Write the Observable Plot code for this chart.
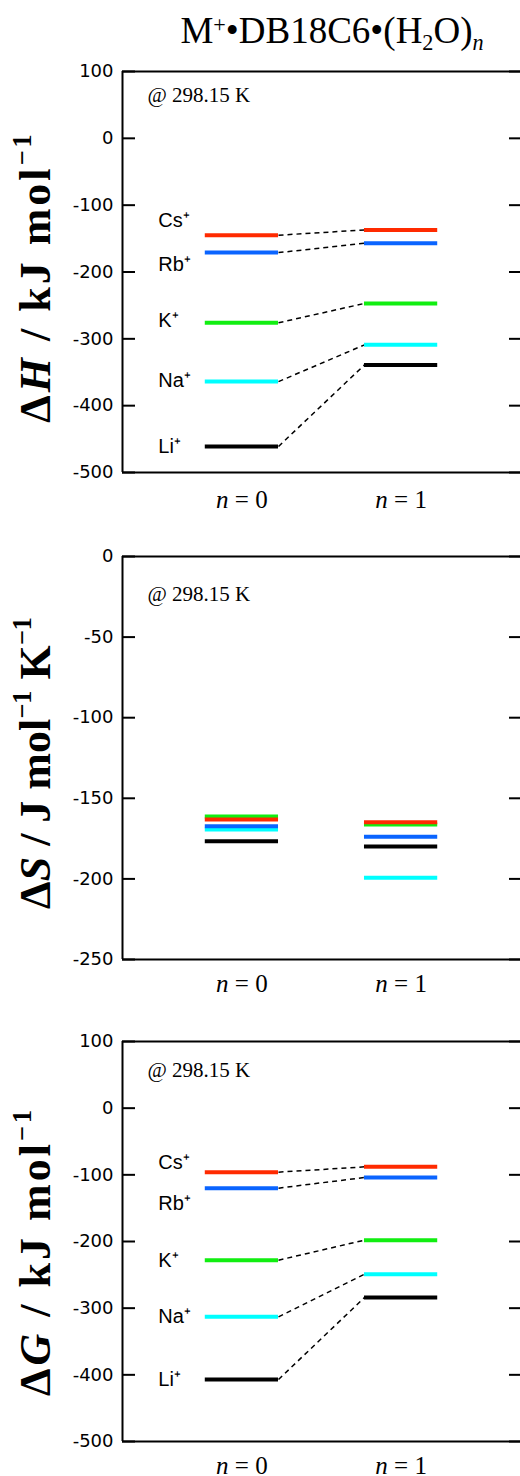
<!DOCTYPE html>
<html><head><meta charset="utf-8">
<script src="https://cdn.jsdelivr.net/npm/d3@7"></script>
<script src="https://cdn.jsdelivr.net/npm/@observablehq/plot@0.6"></script>
<style>
body{margin:0;background:#fff;}
#wrap{width:520px;}
#title{height:56px;box-sizing:border-box;padding-top:12px;padding-left:144px;text-align:center;font-family:"Liberation Serif",serif;font-size:37px;line-height:37px;white-space:nowrap;color:#000;}
.sup{position:relative;top:-0.5em;font-size:0.6em;}
.sub{position:relative;top:0.3em;font-size:0.6em;}
svg{display:block;}
</style></head>
<body><div id="wrap"><div id="title">M<span class="sup">+</span>•DB18C6•(H<span class="sub">2</span>O)<span class="sub"><i>n</i></span></div></div>
<script>
const categories = [0, 1];
const categoryLabels = ["n = 0", "n = 1"];
const ions = ["Li⁺", "Na⁺", "K⁺", "Rb⁺", "Cs⁺"];
const dH_n0 = [-461, -364, -276, -171, -145];
const dH_n1 = [-339, -309, -247, -157, -137];
const dS_n0 = [-176.6, -169.3, -161.3, -167.3, -163.1];
const dS_n1 = [-179.9, -199.3, -166.2, -173.9, -164.8];
const dG_n0 = [-407, -313, -228, -120, -96];
const dG_n1 = [-284, -249, -198, -104, -88];
const dH_ticks = [100, 0, -100, -200, -300, -400, -500];
const dS_ticks = [0, -50, -100, -150, -200, -250];
const dG_ticks = [100, 0, -100, -200, -300, -400, -500];
const tempLabel = "@ 298.15 K";

const ionColors = ["#000000", "#00ffff", "#11ee11", "#0a64ff", "#ff2a00"];
const HW = 0.23;
const XDOM = [-0.75, 1.75];
const LABEL_X = -0.525;

function richify(svg, match, partsFn, fs, letterSpacing) {
  svg.querySelectorAll("text").forEach((el) => {
    const s = el.textContent;
    if (!match(s)) return;
    const parts = partsFn(s);
    while (el.firstChild) el.removeChild(el.firstChild);
    let shift = 0;
    for (const p of parts) {
      const ts = document.createElementNS("http://www.w3.org/2000/svg", "tspan");
      ts.textContent = p.t;
      const target = p.sup ? -0.42 * fs : p.sub ? 0.25 * fs : 0;
      if (target !== shift) { ts.setAttribute("dy", target - shift); shift = target; }
      if (p.i) ts.setAttribute("font-style", "italic");
      if (p.sup || p.sub) ts.setAttribute("font-size", 0.6 * fs);
      el.appendChild(ts);
    }
    if (letterSpacing) el.setAttribute("letter-spacing", letterSpacing);
  });
}

function panel(o) {
  const rows = [];
  ions.forEach((ion, i) => {
    rows.push({i, n: 0, v: o.v0[i]});
    rows.push({i, n: 1, v: o.v1[i]});
  });
  const links = ions.map((ion, i) => ({i, a: o.v0[i], b: o.v1[i]}));
  const marks = [
    Plot.ruleX([XDOM[0]], {strokeWidth: 2}),
    Plot.ruleY([o.domain[0], o.domain[1]], {strokeWidth: 2}),
    Plot.axisY(o.ticks, {anchor: "left", tickSize: 13, dx: 13, fill: "none", strokeWidth: 2, label: null}),
    Plot.axisY(o.ticks, {anchor: "right", tickSize: 12, dx: -12, fill: "none", strokeWidth: 2, label: null}),
    Plot.axisY(o.ticks, {anchor: "left", tickSize: 0, tickPadding: 9, tickFormat: d => String(d),
      fontSize: 18, fontFamily: "DejaVu Sans", label: null}),
    Plot.text([tempLabel], {frameAnchor: "top-left", dx: 25, dy: o.atDy, textAnchor: "start", lineAnchor: "bottom",
      fontFamily: "Liberation Serif", fontSize: 21, text: d => d}),
    Plot.text(categories, {x: d => d, text: (d, i) => categoryLabels[i], frameAnchor: "bottom", dy: o.xLabDy,
      textAnchor: "middle", lineAnchor: "middle", fontFamily: "Liberation Serif", fontSize: 25}),
    Plot.text([o.yLabel], {frameAnchor: "left", rotate: -90, dx: -87, dy: o.yLabDy, text: d => d,
      textAnchor: "middle", lineAnchor: "middle",
      fontFamily: "Liberation Serif", fontWeight: "bold", fontSize: 44})
  ];
  if (o.connectors) {
    marks.push(Plot.link(links, {x1: () => HW, x2: () => 1 - HW, y1: "a", y2: "b",
      stroke: "#000", strokeWidth: 1.5, strokeDasharray: "5,4"}));
  }
  marks.push(Plot.ruleY(rows, {y: "v", x1: d => d.n - HW, x2: d => d.n + HW,
    stroke: d => ionColors[d.i], strokeWidth: 4}));
  if (o.labelDy) {
    ions.forEach((ion, i) => {
      marks.push(Plot.text([i], {x: () => LABEL_X, y: k => o.v0[k], text: k => ions[k], dy: o.labelDy[i],
        textAnchor: "start", fontFamily: "Liberation Sans", fontSize: 20}));
    });
  }
  const svg = Plot.plot({
    width: 520, height: o.height,
    marginLeft: 122, marginRight: 0, marginTop: o.marginTop, marginBottom: o.marginBottom,
    x: {domain: XDOM, axis: null},
    y: {domain: o.domain},
    color: {type: "identity"},
    style: {background: "white", color: "black", fontFamily: "DejaVu Sans", overflow: "visible"},
    marks
  });
  richify(svg, s => categoryLabels.includes(s), s => [{t: s.slice(0, 1), i: 1}, {t: s.slice(1)}], 25);
  richify(svg, s => s === o.yLabel, () => o.yParts, 44, o.yLabSpacing);
  return svg;
}

const wrap = document.getElementById("wrap");
wrap.appendChild(panel({
  height: 459, marginTop: 15, marginBottom: 43, domain: [-500, 100], ticks: dH_ticks,
  v0: dH_n0, v1: dH_n1, connectors: true, labelDy: [0, -1, -2, 12, -15],
  atDy: 30, xLabDy: 27, yLabDy: 5, yLabSpacing: 3, yLabel: "ΔH / kJ mol−1",
  yParts: [{t: "Δ"}, {t: "H", i: 1}, {t: " / kJ mol"}, {t: "−1", sup: 1}]
}));
wrap.appendChild(panel({
  height: 485, marginTop: 41, marginBottom: 41, domain: [-250, 0], ticks: dS_ticks,
  v0: dS_n0, v1: dS_n1, connectors: false, labelDy: null,
  atDy: 44, xLabDy: 24, yLabDy: 5, yLabSpacing: 0, yLabel: "ΔS / J mol−1 K−1",
  yParts: [{t: "Δ"}, {t: "S", i: 1}, {t: " / J mol"}, {t: "−1", sup: 1}, {t: " K"}, {t: "−1", sup: 1}]
}));
wrap.appendChild(panel({
  height: 476, marginTop: 41, marginBottom: 35, domain: [-500, 100], ticks: dG_ticks,
  v0: dG_n0, v1: dG_n1, connectors: true, labelDy: [0, 0, 0, 15, -10],
  atDy: 35, xLabDy: 24, yLabDy: 10, yLabSpacing: 3, yLabel: "ΔG / kJ mol−1",
  yParts: [{t: "Δ"}, {t: "G", i: 1}, {t: " / kJ mol"}, {t: "−1", sup: 1}]
}));
</script>
</body></html>
